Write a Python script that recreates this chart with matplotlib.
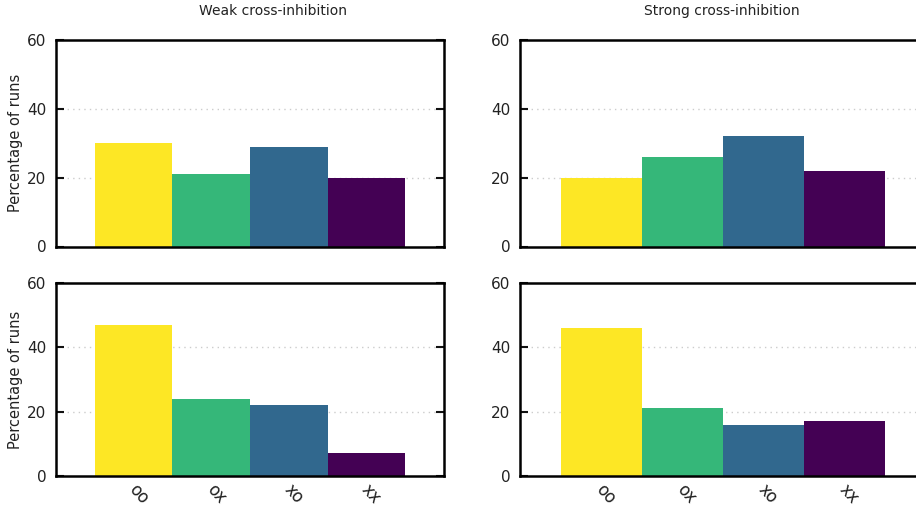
import matplotlib
matplotlib.use("Agg")
import matplotlib.pyplot as plt
import matplotlib.transforms as mtransforms
import numpy as np

categories = ["oo", "ox", "xo", "xx"]
colors = ["#fde725", "#35b779", "#31688e", "#440154"]
weak_top = [30, 21, 29, 20]
strong_top = [20, 26, 32, 22]
weak_bottom = [47, 24, 22, 7]
strong_bottom = [46, 21, 16, 17]
yticks = [0, 20, 40, 60]
titles = ["Weak cross-inhibition", "Strong cross-inhibition"]
ylabel = "Percentage of runs"

W, H = 916, 508
fig = plt.figure(figsize=(W / 100, H / 100), dpi=100)

def px_axes(l, t, r, b):
    return fig.add_axes([l / W, 1 - b / H, (r - l) / W, (b - t) / H])

layout = [
    ((56, 40, 444, 246.5), weak_top, True, False),
    ((520, 40, 925, 246.5), strong_top, False, False),
    ((56, 283, 444, 476), weak_bottom, True, True),
    ((520, 283, 925, 476), strong_bottom, False, True),
]

offset = mtransforms.ScaledTranslation(5 / 100, 0, fig.dpi_scale_trans)

x = np.arange(len(categories))
for box, vals, left, bottom in layout:
    ax = px_axes(*box)
    ax.bar(x, vals, width=1.0, color=colors, linewidth=0, zorder=2)
    ax.set_xlim(-1, 4)
    ax.set_ylim(0, 60)
    ax.set_yticks(yticks)
    ax.tick_params(axis="y", direction="in", length=6, width=1.5,
                   left=True, right=True, labelsize=11, pad=7, colors="#111111")
    ax.tick_params(axis="y", labelcolor="#222222")
    for yv in [20, 40]:
        ax.axhline(yv, color="#cccccc", lw=1.0, ls=(0, (1, 3)), zorder=1)
    for s in ax.spines.values():
        s.set_linewidth(1.8)
        s.set_color("black")
    ax.set_xticks(x)
    if bottom:
        ax.set_xticklabels(categories, rotation=-48, ha="left", va="top",
                           rotation_mode="anchor", fontsize=12, color="#222222")
        ax.tick_params(axis="x", length=0, pad=3)
        for lab in ax.get_xticklabels():
            lab.set_transform(lab.get_transform() + offset)
    else:
        ax.set_xticklabels([])
        ax.tick_params(axis="x", length=0)
    if left:
        ax.set_ylabel(ylabel, fontsize=10.5, color="#222222", labelpad=3)

fig.text(273 / W, 1 - 11 / H, titles[0], ha="center", va="center", fontsize=10, color="#222222")
fig.text(722 / W, 1 - 11 / H, titles[1], ha="center", va="center", fontsize=10, color="#222222")

fig.savefig("out.png", dpi=100)
